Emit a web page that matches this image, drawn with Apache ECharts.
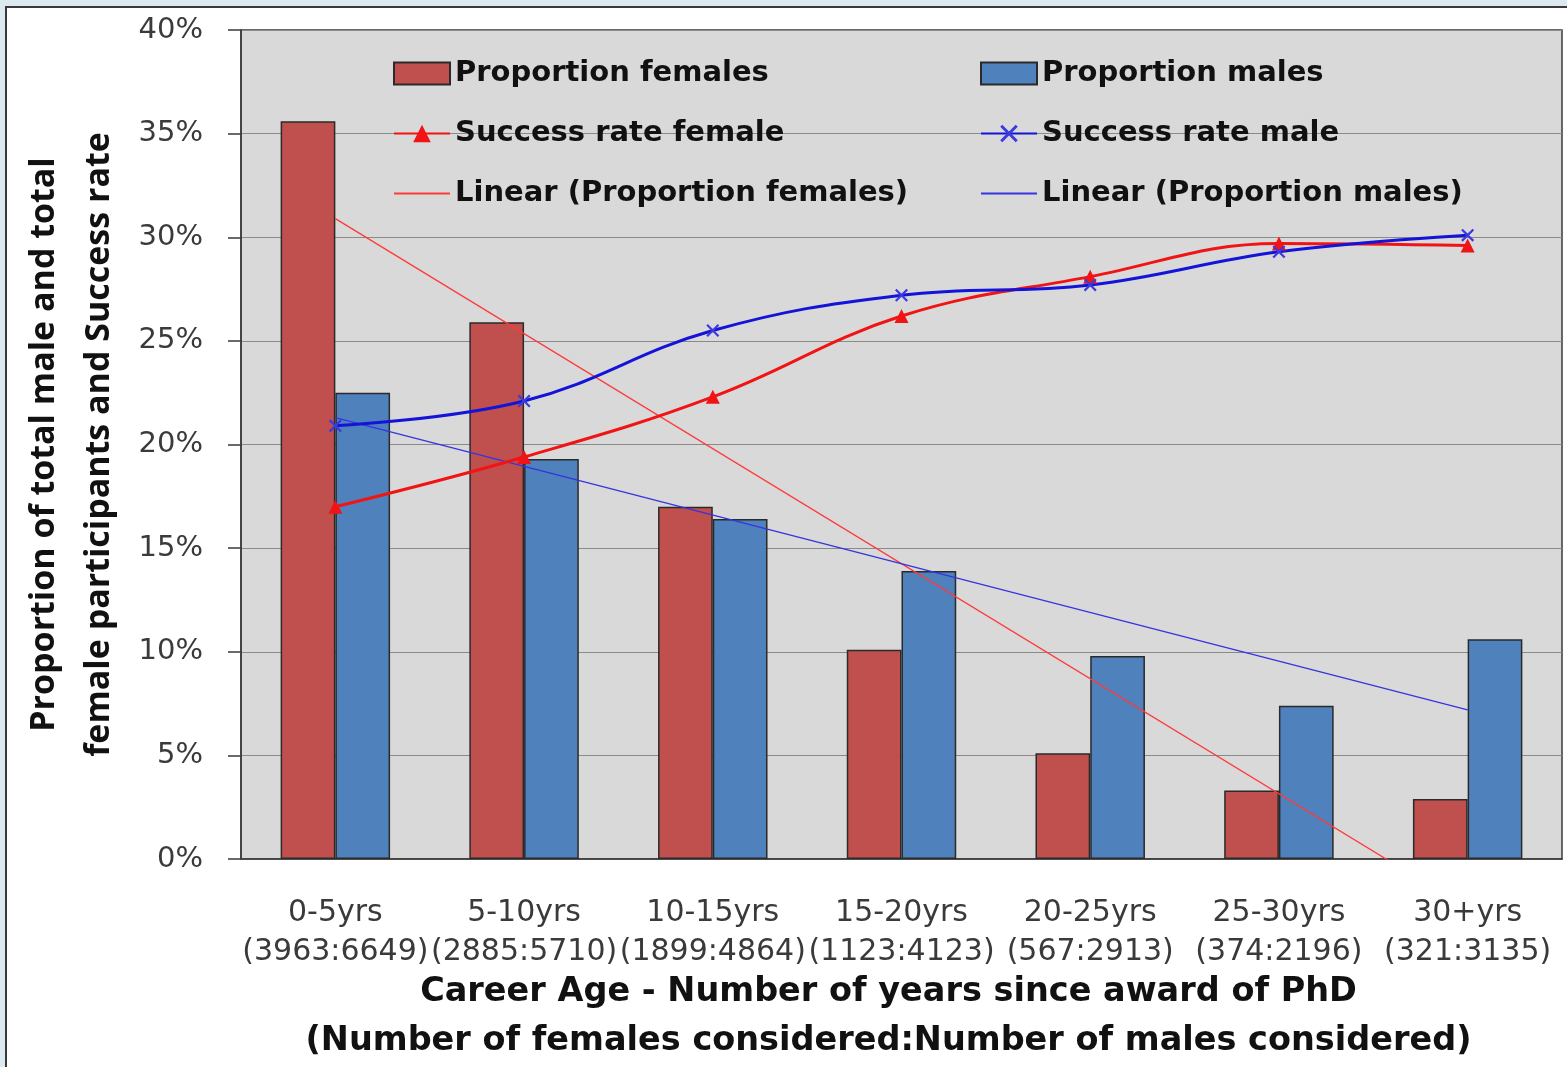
<!DOCTYPE html>
<html>
<head>
<meta charset="utf-8">
<script src="https://cdn.jsdelivr.net/npm/echarts@6/dist/echarts.min.js"></script>
<style>
html,body{margin:0;padding:0;background:#dce9ef;width:1567px;height:1067px;overflow:hidden;}
#frame{position:absolute;left:5px;top:6px;width:1562px;height:1061px;background:#fff;border-left:2px solid #3a3a3a;border-top:2px solid #3a3a3a;box-sizing:border-box;}
#chart{position:absolute;left:0;top:0;width:1567px;height:1067px;}
</style>
</head>
<body>
<div id="frame"></div>
<div id="chart"></div>
<script>
// ---- data (percent) ----
const categories = ['0-5yrs\n(3963:6649)','5-10yrs\n(2885:5710)','10-15yrs\n(1899:4864)','15-20yrs\n(1123:4123)','20-25yrs\n(567:2913)','25-30yrs\n(374:2196)','30+yrs\n(321:3135)'];
const propFemales = [35.6, 25.9, 17.0, 10.1, 5.1, 3.3, 2.9];
const propMales   = [22.5, 19.3, 16.4, 13.9, 9.8, 7.4, 10.6];
const successFemale = [17.0, 19.4, 22.3, 26.2, 28.1, 29.7, 29.6];
const successMale   = [20.9, 22.1, 25.5, 27.2, 27.7, 29.3, 30.1];
// trend line endpoints: [categoryIndex, value]
const trendFemale = [[0, 30.9], [6, -2.4]];
const trendMale   = [[0, 21.3], [6, 7.2]];
const yTicks = [0, 5, 10, 15, 20, 25, 30, 35, 40];

const xMarker = 'path://M0,1.2 L1.2,0 L5,3.8 L8.8,0 L10,1.2 L6.2,5 L10,8.8 L8.8,10 L5,6.2 L1.2,10 L0,8.8 L3.8,5 Z';
const wideFont = '"DejaVu Sans", sans-serif';
const legendText = {fontFamily: wideFont, fontWeight: 'bold', fontSize: 29, lineHeight: 22, color: '#111'};

const chart = echarts.init(document.getElementById('chart'), null, {renderer:'canvas'});
chart.setOption({
  backgroundColor: 'transparent',
  animation: false,
  grid: {left: 241, top: 30, right: 5, bottom: 208, outerBoundsMode: 'none', containLabel: false,
         show: true, backgroundColor: '#d9d9d9', borderColor: '#3a3a3a', borderWidth: 1.5},
  legend: [
    {orient: 'vertical', left: 388, top: 54, itemWidth: 56, itemHeight: 22, itemGap: 31, padding: 5,
     textStyle: legendText, selectedMode: false,
     data: [{name: 'Proportion females', icon: 'rect'}, {name: 'Success rate female'},
            {name: 'Linear (Proportion females)', itemStyle: {opacity: 0}}]},
    {orient: 'vertical', left: 975, top: 54, itemWidth: 56, itemHeight: 22, itemGap: 31, padding: 5,
     textStyle: legendText, selectedMode: false,
     data: [{name: 'Proportion males', icon: 'rect'}, {name: 'Success rate male'},
            {name: 'Linear (Proportion males)', itemStyle: {opacity: 0}}]}
  ],
  xAxis: {
    type: 'category', data: categories,
    axisLine: {lineStyle: {color: '#3a3a3a', width: 1.5}},
    axisTick: {length: 13, lineStyle: {color: '#3a3a3a', width: 1.5}},
    axisLabel: {margin: 35, fontFamily: wideFont, fontSize: 30, lineHeight: 39, color: '#3a3a3a', interval: 0},
    name: 'Career Age - Number of years since award of PhD\n(Number of females considered:Number of males considered)',
    nameLocation: 'middle', nameGap: 109, nameMoveOverlap: false,
    nameTextStyle: {fontFamily: wideFont, fontWeight: 'bold', fontSize: 33.5, lineHeight: 49, color: '#111', padding: [0, 26, 0, 0]}
  },
  yAxis: {
    type: 'value', min: 0, max: 40, interval: 5,
    axisLine: {show: true, lineStyle: {color: '#3a3a3a', width: 1.5}},
    axisTick: {show: true, length: 13, lineStyle: {color: '#3a3a3a', width: 1.5}},
    axisLabel: {margin: 38, fontFamily: wideFont, fontSize: 29, color: '#3a3a3a', formatter: v => yTicks.includes(v) ? v + '%' : ''},
    splitLine: {lineStyle: {color: '#8a8a8a', width: 1.2}},
    name: 'Proportion of total male and total\nfemale participants and Success rate',
    nameLocation: 'middle', nameGap: 114, nameMoveOverlap: false,
    nameTextStyle: {fontFamily: '"Open Sans", sans-serif', fontWeight: 'bold', fontSize: 34, lineHeight: 55, color: '#111'}
  },
  series: [
    {name: 'Proportion females', type: 'bar', data: propFemales, barGap: '0%', barCategoryGap: '42%',
     itemStyle: {color: '#c0504d', borderColor: '#2a2a2a', borderWidth: 1.5}, z: 2},
    {name: 'Proportion males', type: 'bar', data: propMales,
     itemStyle: {color: '#4f81bd', borderColor: '#2a2a2a', borderWidth: 1.5}, z: 2},
    {name: 'Success rate female', type: 'line', data: successFemale, smooth: 0.4,
     symbol: 'triangle', symbolSize: 14, lineStyle: {color: '#f01414', width: 3},
     itemStyle: {color: '#f01414'}, z: 5},
    {name: 'Success rate male', type: 'line', data: successMale, smooth: 0.4,
     symbol: xMarker, symbolSize: 13, lineStyle: {color: '#1414d8', width: 3},
     itemStyle: {color: '#3a3ae0'}, z: 5},
    {name: 'Linear (Proportion females)', type: 'line', data: trendFemale, symbol: 'none',
     lineStyle: {color: '#ff3a3a', width: 1.3}, itemStyle: {color: '#ff3a3a'}, z: 4},
    {name: 'Linear (Proportion males)', type: 'line', data: trendMale, symbol: 'none',
     lineStyle: {color: '#3434e0', width: 1.3}, itemStyle: {color: '#3434e0'}, z: 4}
  ]
});
</script>
</body>
</html>
